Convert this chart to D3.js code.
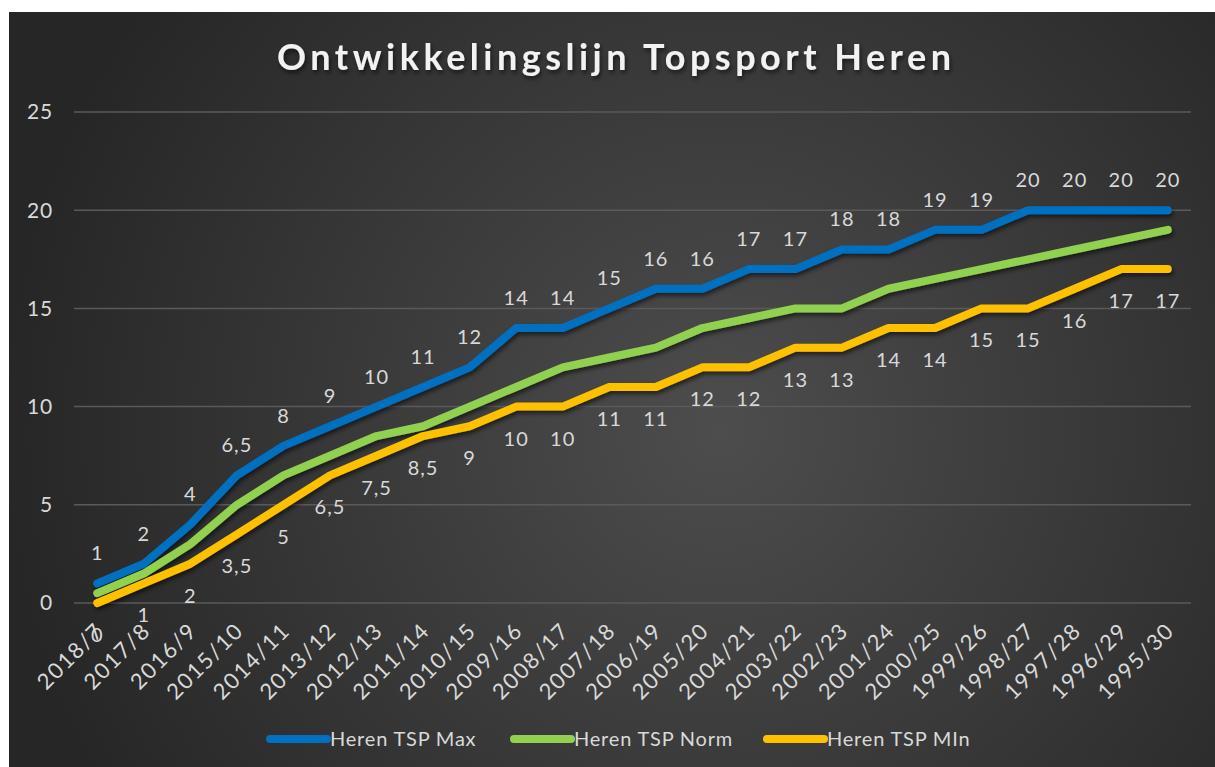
<!DOCTYPE html>
<html>
<head>
<meta charset="utf-8">
<script src="https://cdn.jsdelivr.net/npm/d3@7"></script>
<style>
  body { margin: 0; background: #fff; }
  text { font-family: 'Lato', 'Noto Sans', sans-serif; }
</style>
</head>
<body>
<div id="chart"></div>
<script>
const seasons = ['2018/7', '2017/8', '2016/9', '2015/10', '2014/11', '2013/12', '2012/13', '2011/14',
    '2010/15', '2009/16', '2008/17', '2007/18', '2006/19', '2005/20', '2004/21', '2003/22',
    '2002/23', '2001/24', '2000/25', '1999/26', '1998/27', '1997/28', '1996/29', '1995/30'];
const tspMax = [1, 2, 4, 6.5, 8, 9, 10, 11, 12, 14, 14, 15, 16, 16, 17, 17, 18, 18, 19, 19, 20, 20, 20, 20];
const tspNorm = [0.5, 1.5, 3, 5, 6.5, 7.5, 8.5, 9, 10, 11, 12, 12.5, 13, 14, 14.5, 15, 15, 16, 16.5, 17, 17.5, 18, 18.5, 19];
const tspMin = [0, 1, 2, 3.5, 5, 6.5, 7.5, 8.5, 9, 10, 10, 11, 11, 12, 12, 13, 13, 14, 14, 15, 15, 16, 17, 17];
const yTicks = [0, 5, 10, 15, 20, 25];

const series = [
    { name: 'Heren TSP Max', values: tspMax, color: '#0070C0', label: 'above' },
    { name: 'Heren TSP Norm', values: tspNorm, color: '#92D050', label: null },
    { name: 'Heren TSP MIn', values: tspMin, color: '#FFC000', label: 'below' }
];

const W = 1215, H = 767;
const plot = { left: 74, right: 1191, top: 112, bottom: 603 };
const fmt = v => String(v).replace('.', ',');

const svg = d3.select('#chart').append('svg')
    .attr('width', W)
    .attr('height', H);

const defs = svg.append('defs');
const grad = defs.append('radialGradient')
    .attr('id', 'bg')
    .attr('gradientUnits', 'userSpaceOnUse')
    .attr('cx', 720).attr('cy', 430).attr('r', 720);
grad.append('stop').attr('offset', '0%').attr('stop-color', '#4d4d4d');
grad.append('stop').attr('offset', '100%').attr('stop-color', '#262626');

const shadow = defs.append('filter').attr('id', 'shadow')
    .attr('x', '-5%').attr('y', '-5%').attr('width', '110%').attr('height', '115%');
shadow.append('feDropShadow')
    .attr('dx', 1.5).attr('dy', 3).attr('stdDeviation', 2)
    .attr('flood-color', '#000').attr('flood-opacity', 0.55);

// Background
svg.append('rect')
    .attr('x', 9).attr('y', 12)
    .attr('width', W - 9).attr('height', H - 12)
    .attr('fill', 'url(#bg)');

// Title
svg.append('text')
    .attr('x', 614).attr('y', 70)
    .attr('text-anchor', 'middle')
    .attr('textLength', 674)
    .attr('lengthAdjust', 'spacing')
    .attr('font-size', 36)
    .attr('font-weight', 'bold')
    .attr('fill', '#f2f2f2')
    .attr('filter', 'url(#shadow)')
    .text('Ontwikkelingslijn Topsport Heren');

// Scales
const x = d3.scalePoint()
    .domain(seasons)
    .range([plot.left, plot.right])
    .padding(0.5);
const y = d3.scaleLinear()
    .domain([0, 25])
    .range([plot.bottom, plot.top]);

// Gridlines
svg.append('g')
    .selectAll('line')
    .data(yTicks)
    .enter().append('line')
    .attr('x1', plot.left).attr('x2', plot.right)
    .attr('y1', d => y(d)).attr('y2', d => y(d))
    .attr('stroke', '#5a5a5a')
    .attr('stroke-width', 1.5);

// Y axis labels
svg.append('g')
    .selectAll('text')
    .data(yTicks)
    .enter().append('text')
    .attr('x', 53)
    .attr('y', d => y(d))
    .attr('dy', '0.35em')
    .attr('text-anchor', 'end')
    .attr('font-size', 21)
    .attr('letter-spacing', 0.8)
    .attr('fill', '#d9d9d9')
    .text(d => d);

// X axis labels
svg.append('g')
    .selectAll('text')
    .data(seasons)
    .enter().append('text')
    .attr('text-anchor', 'end')
    .attr('transform', d => 'translate(' + (x(d) + 8) + ',' + 632 + ') rotate(-45)')
    .attr('font-size', 22)
    .attr('letter-spacing', 1.6)
    .attr('fill', '#d9d9d9')
    .text(d => d);

// Lines
const line = d3.line()
    .x((d, i) => x(seasons[i]))
    .y(d => y(d));
svg.append('g')
    .selectAll('path')
    .data(series)
    .enter().append('path')
    .attr('d', d => line(d.values))
    .attr('fill', 'none')
    .attr('stroke', d => d.color)
    .attr('stroke-width', 8)
    .attr('stroke-linecap', 'round')
    .attr('stroke-linejoin', 'round')
    .attr('filter', 'url(#shadow)');

// Data labels
series.filter(s => s.label).forEach(s => {
    svg.append('g')
        .selectAll('text')
        .data(s.values)
        .enter().append('text')
        .attr('x', (d, i) => x(seasons[i]))
        .attr('y', d => s.label === 'above' ? y(d) - 23 : y(d) + 39)
        .attr('text-anchor', 'middle')
        .attr('font-size', 20)
        .attr('letter-spacing', 1)
        .attr('fill', '#d9d9d9')
        .text(d => fmt(d));
});

// Legend
const legendX = [270, 514, 767];
const legend = svg.append('g')
    .selectAll('g')
    .data(series)
    .enter().append('g')
    .attr('transform', (d, i) => 'translate(' + legendX[i] + ',739)');
legend.append('line')
    .attr('x1', 0).attr('x2', 57)
    .attr('stroke', d => d.color)
    .attr('stroke-width', 8)
    .attr('stroke-linecap', 'round');
legend.append('text')
    .attr('x', 60)
    .attr('dy', '0.35em')
    .attr('font-size', 20)
    .attr('letter-spacing', 0.8)
    .attr('fill', '#d9d9d9')
    .text(d => d.name);
</script>
</body>
</html>
